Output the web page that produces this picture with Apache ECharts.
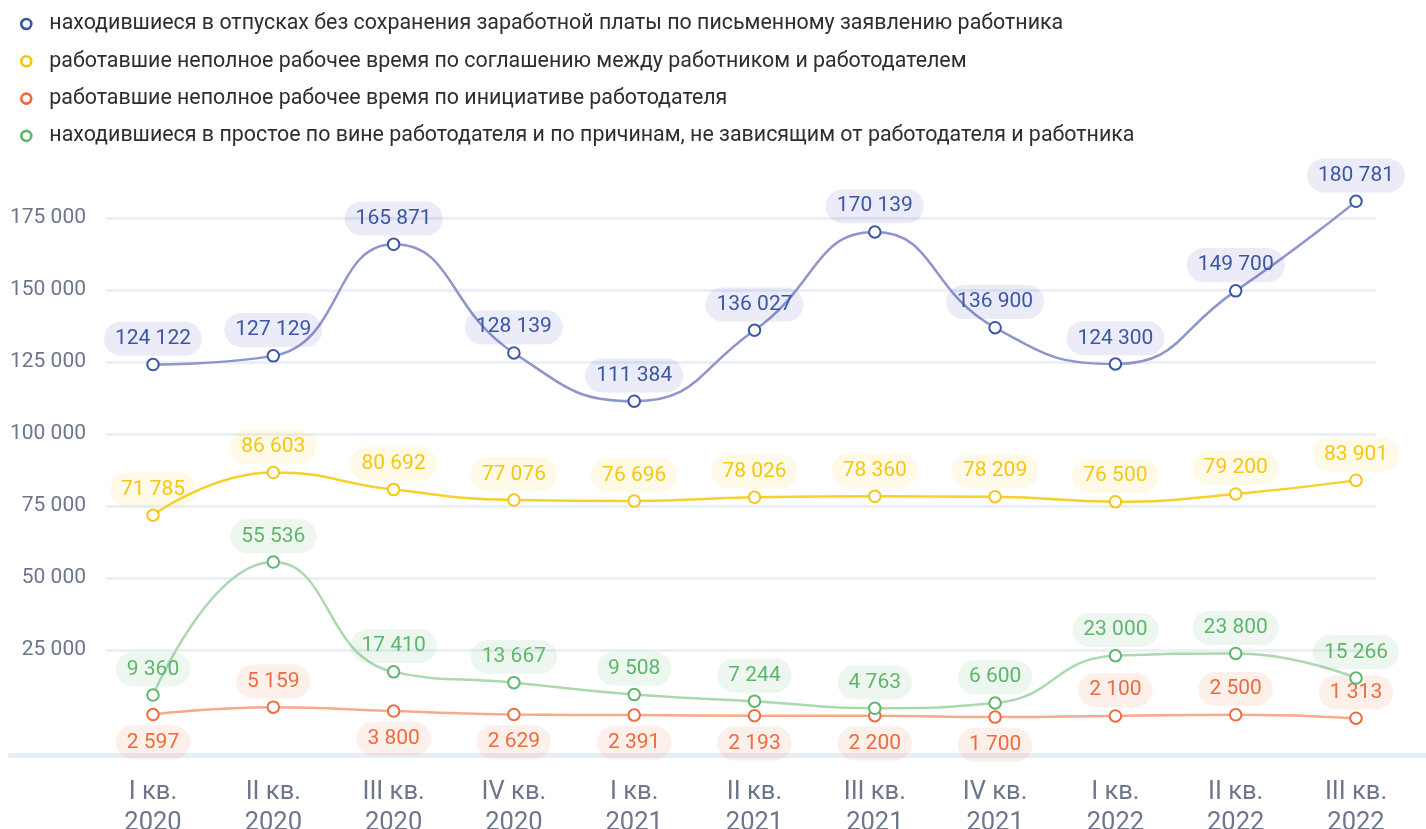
<!DOCTYPE html>
<html>
<head>
<meta charset="utf-8">
<script src="https://cdn.jsdelivr.net/npm/echarts@6/dist/echarts.min.js"></script>
<style>
html,body{margin:0;padding:0;background:#fff;}
#chart{width:1426px;height:829px;}
</style>
</head>
<body>
<div id="chart"></div>
<script>
const categories = ['I кв.\n2020','II кв.\n2020','III кв.\n2020','IV кв.\n2020','I кв.\n2021','II кв.\n2021','III кв.\n2021','IV кв.\n2021','I кв.\n2022','II кв.\n2022','III кв.\n2022'];
const seriesNames = [
  'находившиеся в отпусках без сохранения заработной платы по письменному заявлению работника',
  'работавшие неполное рабочее время по соглашению между работником и работодателем',
  'работавшие неполное рабочее время по инициативе работодателя',
  'находившиеся в простое по вине работодателя и по причинам, не зависящим от работодателя и работника'
];
const unpaidLeave = [124122, 127129, 165871, 128139, 111384, 136027, 170139, 136900, 124300, 149700, 180781];
const partTimeAgreement = [71785, 86603, 80692, 77076, 76696, 78026, 78360, 78209, 76500, 79200, 83901];
const partTimeEmployer = [2597, 5159, 3800, 2629, 2391, 2193, 2200, 1700, 2100, 2500, 1313];
const downtime = [9360, 55536, 17410, 13667, 9508, 7244, 4763, 6600, 23000, 23800, 15266];
const yTicks = [25000, 50000, 75000, 100000, 125000, 150000, 175000];
const yMin = 0, yMax = 200000, yStep = 25000;

const darkColors = ['#3a56a7', '#f5c715', '#ee6b3d', '#5db66c'];
const lineColors = ['#8e95cc', '#f8d02a', '#f5aa8b', '#abd8b0'];
const labelBg = ['rgba(70,85,180,0.11)', 'rgba(245,215,60,0.12)', 'rgba(240,120,70,0.11)', 'rgba(90,180,100,0.1)'];
const orangeLabelsAbove = [1, 8, 9, 10];

const fmt = v => String(v).replace(/\B(?=(\d{3})+(?!\d))/g, ' ');
const FONT = 'Roboto';

function makeSeries(idx, values, posFn) {
  return {
    name: seriesNames[idx],
    type: 'line',
    xAxisIndex: 1,
    yAxisIndex: 1,
    smooth: 0.5,
    symbol: 'emptyCircle',
    symbolSize: 11.5,
    z: 3 + idx,
    lineStyle: { color: lineColors[idx], width: 2.5 },
    itemStyle: { color: darkColors[idx], borderWidth: 2.7 },
    label: {
      show: true,
      position: 'top',
      distance: 2,
      formatter: p => fmt(p.value),
      color: darkColors[idx],
      fontFamily: FONT,
      fontSize: 21,
      lineHeight: 22,
      backgroundColor: labelBg[idx],
      padding: [6, 11],
      borderRadius: 17
    },
    data: values.map((v, i) => posFn ? { value: v, label: { position: posFn(i), distance: posFn(i) === 'bottom' ? 4 : 2 } } : v)
  };
}

const chart = echarts.init(document.getElementById('chart'), null, { renderer: 'canvas' });
chart.setOption({
  backgroundColor: '#ffffff',
  animation: false,
  textStyle: { fontFamily: FONT },
  legend: {
    orient: 'vertical',
    left: 15,
    top: 7,
    itemWidth: 10,
    itemHeight: 10,
    itemGap: 13.3,
    icon: 'circle',
    selectedMode: false,
    textStyle: { fontFamily: FONT, fontSize: 21.4, lineHeight: 24, color: '#2e2e2e', padding: [0, 0, 0, 13] },
    data: seriesNames.map((n, i) => ({ name: n, itemStyle: { color: '#ffffff', borderColor: darkColors[i], borderWidth: 2.6 } }))
  },
  grid: [
    { left: 106, right: 50, top: 146, bottom: 107, containLabel: false, outerBoundsMode: 'none' },
    { left: 153, right: 70, top: 146, bottom: 107, containLabel: false, outerBoundsMode: 'none' },
    { left: 10, right: 0, top: 146, bottom: 74, containLabel: false, outerBoundsMode: 'none' }
  ],
  xAxis: [
    { gridIndex: 0, type: 'category', data: categories, show: false },
    {
      gridIndex: 1, type: 'category', data: categories, boundaryGap: false,
      axisLine: { show: false }, axisTick: { show: false }, splitLine: { show: false },
      axisLabel: { margin: 55, fontFamily: FONT, fontSize: 25.5, lineHeight: 31, color: '#6c768b', interval: 0 }
    },
    {
      gridIndex: 2, type: 'category', data: categories,
      axisLine: { show: true, lineStyle: { color: '#e8eef5', width: 5 } },
      axisTick: { show: false }, axisLabel: { show: false }, splitLine: { show: false }
    }
  ],
  yAxis: [
    {
      gridIndex: 0, type: 'value', min: yMin, max: yMax, interval: yStep,
      axisLine: { show: false }, axisTick: { show: false },
      axisLabel: {
        margin: 20, fontFamily: FONT, fontSize: 21, color: '#6c768b',
        formatter: v => yTicks.includes(v) ? fmt(v) : ''
      },
      splitLine: { show: true, showMinLine: false, showMaxLine: false, lineStyle: { color: '#eaf0f6', width: 3 } }
    },
    { gridIndex: 1, type: 'value', min: yMin, max: yMax, interval: yStep, show: false, splitLine: { show: false } },
    { gridIndex: 2, type: 'value', min: 0, max: 1, show: false, splitLine: { show: false } }
  ],
  series: [
    makeSeries(0, unpaidLeave),
    makeSeries(1, partTimeAgreement),
    makeSeries(2, partTimeEmployer, i => orangeLabelsAbove.includes(i) ? 'top' : 'bottom'),
    makeSeries(3, downtime)
  ]
});
</script>
</body>
</html>
